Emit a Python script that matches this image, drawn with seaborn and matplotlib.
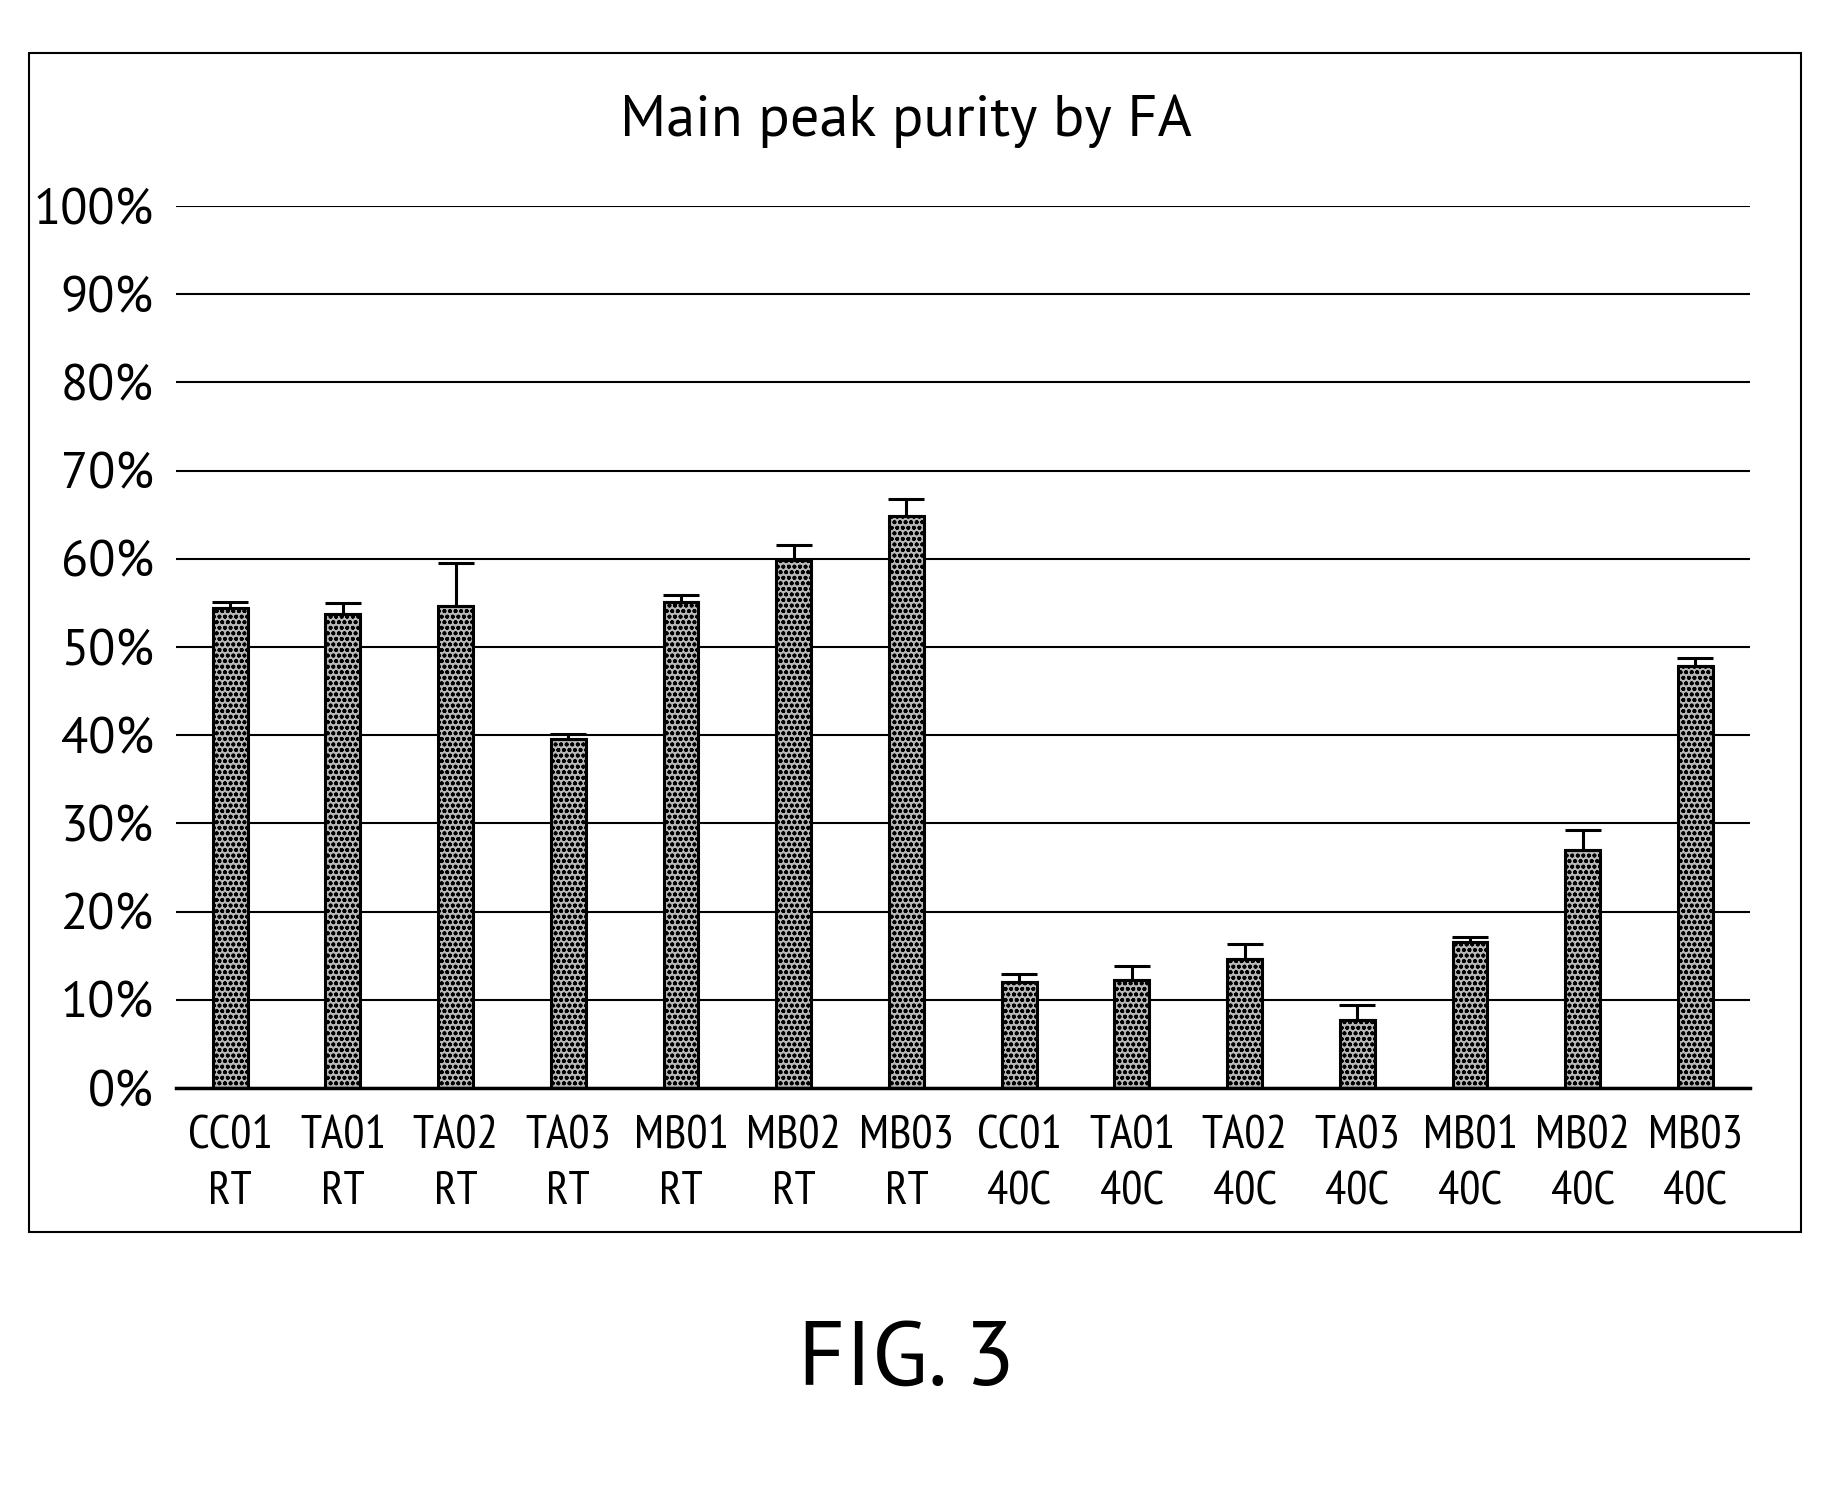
import pandas as pd
import numpy as np
import matplotlib
matplotlib.use("Agg")
import matplotlib.pyplot as plt
import matplotlib.ticker as mticker
from matplotlib.patches import Rectangle
import seaborn as sns

sns.set_theme(style="white")
plt.rcParams["font.family"] = ["PT Sans", "DejaVu Sans"]
plt.rcParams["hatch.color"] = "black"
plt.rcParams["hatch.linewidth"] = 1.2

# ------------------------------------------------------------------
# DATA
# ------------------------------------------------------------------
samples = ["CC01", "TA01", "TA02", "TA03", "MB01", "MB02", "MB03",
           "CC01", "TA01", "TA02", "TA03", "MB01", "MB02", "MB03"]
conditions = ["RT"] * 7 + ["40C"] * 7
purity = [0.544, 0.537, 0.547, 0.396, 0.551, 0.599, 0.648,
          0.120, 0.122, 0.146, 0.077, 0.166, 0.270, 0.478]
err_up = [0.007, 0.013, 0.048, 0.005, 0.008, 0.017, 0.020,
          0.009, 0.016, 0.017, 0.017, 0.005, 0.023, 0.009]

labels = [f"{s}\n{c}" for s, c in zip(samples, conditions)]
df = pd.DataFrame({"label": labels, "purity": purity})

# ------------------------------------------------------------------
# PLOT
# ------------------------------------------------------------------
fig = plt.figure(figsize=(18.36, 15.12), dpi=100)
ax = fig.add_axes([0.0959, 0.2804, 0.857, 0.5834])

# outer frame around the chart
fig.patches.append(Rectangle((29 / 1836, 1 - 1232 / 1512), (1801 - 29) / 1836,
                             (1232 - 53) / 1512, transform=fig.transFigure,
                             fill=False, edgecolor="black", linewidth=1.5))

sns.barplot(data=df, x="label", y="purity", ax=ax, width=0.31,
            color="#b8b8b8", edgecolor="black", linewidth=2.2, zorder=3)
for p in ax.patches:
    p.set_hatch("ooo")

x = np.arange(len(labels))
ax.errorbar(x, purity, yerr=[np.zeros(len(err_up)), err_up], fmt="none",
            ecolor="black", elinewidth=2.2, capsize=13, capthick=2.2, zorder=4)

ax.set_ylim(0, 1)
ax.set_xlim(-0.48, len(labels) - 0.52)
ax.yaxis.set_major_locator(mticker.MultipleLocator(0.1))
ax.yaxis.set_major_formatter(mticker.PercentFormatter(1.0, decimals=0))
ax.grid(axis="y", color="black", linewidth=1.5, zorder=0)
ax.set_axisbelow(True)
for side in ["left", "right", "top"]:
    ax.spines[side].set_visible(False)
ax.spines["bottom"].set_linewidth(2.5)
ax.spines["bottom"].set_color("black")
ax.spines["bottom"].set_zorder(5)

ax.tick_params(axis="y", length=0, pad=16, labelsize=36, labelcolor="black")
ax.tick_params(axis="x", length=0, pad=20, labelcolor="black")
for t in ax.get_xticklabels():
    t.set_family(["PT Sans Narrow", "DejaVu Sans"])
    t.set_fontsize(34)
    t.set_linespacing(1.4)
ax.set_xlabel("")
ax.set_ylabel("")

fig.text(0.4935, 1 - 121 / 1512, "Main peak purity by FA", ha="center",
         va="center", fontsize=42, color="black")
fig.text(0.494, 1 - 1362 / 1512, "FIG. 3", ha="center", va="center",
         fontsize=66, color="black")

fig.savefig("out.png", dpi=100)
